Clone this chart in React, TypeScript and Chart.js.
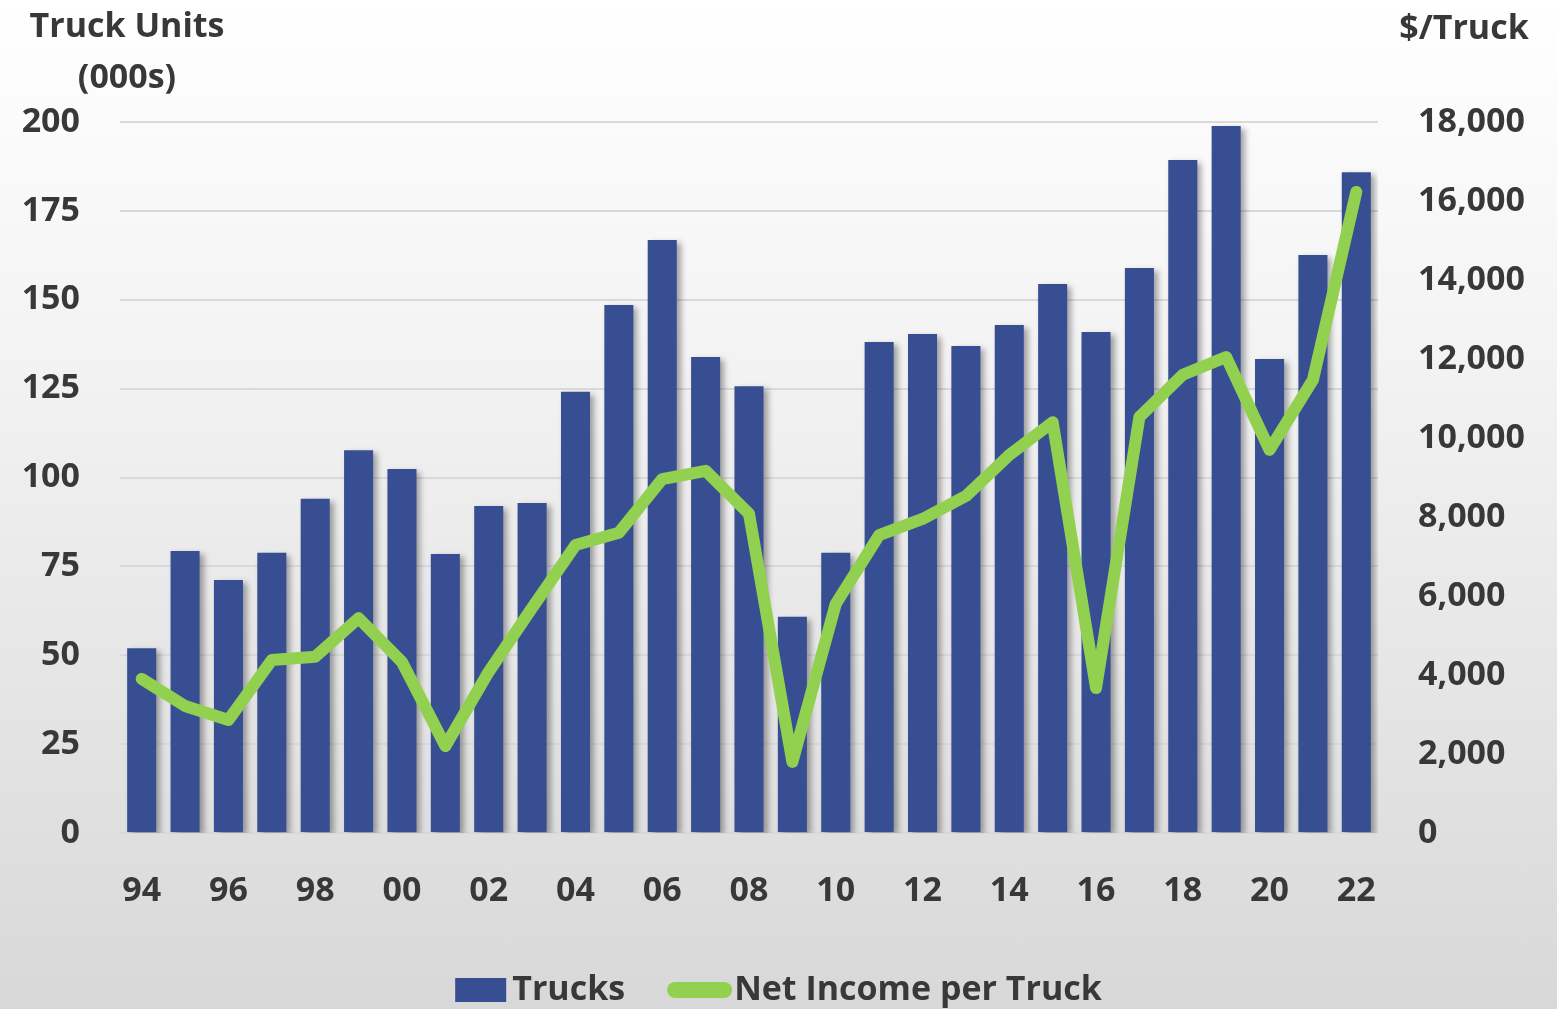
import React, { useEffect, useRef } from "react";
import { Chart, registerables } from "chart.js";

Chart.register(...registerables);

const years = ["94","95","96","97","98","99","00","01","02","03","04","05","06","07","08","09","10","11","12","13","14","15","16","17","18","19","20","21","22"];
const trucks = [52.0,79.3,71.2,78.8,94.0,107.7,102.4,78.5,92.0,92.8,124.1,148.5,166.8,133.9,125.7,60.8,78.8,138.1,140.4,137.0,142.9,154.4,140.9,158.9,189.3,198.9,133.3,162.6,185.9];
const netIncome = [3900,3215,2860,4380,4460,5440,4330,2200,4080,5700,7290,7600,8960,9170,8080,1800,5800,7540,7950,8530,9570,10400,3670,10530,11600,12050,9700,11470,16230];
const leftTitle = ["Truck Units", "(000s)"];
const rightTitle = "$/Truck";
const seriesNames = ["Trucks", "Net Income per Truck"];

const BAR = "#374F92";
const GREEN = "#92D050";
const TEXT = "#383838";
const FONT = "'Open Sans', Lato, 'DejaVu Sans', sans-serif";
const FS = 34;

const extrasPlugin = {
  id: "extras",
  beforeDatasetDraw(chart: any, args: any) {
    if (args.index === 1) {
      const ctx = chart.ctx;
      ctx.save();
      ctx.shadowColor = "rgba(0,0,0,0.35)";
      ctx.shadowBlur = 6;
      ctx.shadowOffsetX = 4;
      ctx.shadowOffsetY = 3;
    }
  },
  afterDatasetDraw(chart: any, args: any) {
    if (args.index === 1) chart.ctx.restore();
  },
  afterDraw(chart: any) {
    const ctx = chart.ctx;
    ctx.save();
    ctx.fillStyle = TEXT;
    ctx.font = `bold ${FS}px ${FONT}`;
    ctx.textBaseline = "middle";
    ctx.textAlign = "center";
    ctx.fillText(leftTitle[0], 127, 27);
    ctx.fillText(leftTitle[1], 127, 78);
    ctx.fillText(rightTitle, 1464, 29);

    // legend
    const w1 = ctx.measureText(seriesNames[0]).width;
    const w2 = ctx.measureText(seriesNames[1]).width;
    const boxW = 51, gap1 = 6, between = 42, lineW = 65, gap2 = 2;
    const total = boxW + gap1 + w1 + between + lineW + gap2 + w2;
    let x = (chart.width - total) / 2;
    const cy = 990;
    ctx.fillStyle = BAR;
    ctx.fillRect(x, cy - 12, boxW, 24);
    x += boxW + gap1;
    ctx.fillStyle = TEXT;
    ctx.textAlign = "left";
    ctx.fillText(seriesNames[0], x, cy);
    x += w1 + between;
    ctx.strokeStyle = GREEN;
    ctx.lineWidth = 16;
    ctx.lineCap = "round";
    ctx.beginPath();
    ctx.moveTo(x + 8, cy);
    ctx.lineTo(x + lineW - 8, cy);
    ctx.stroke();
    x += lineW + gap2;
    ctx.fillText(seriesNames[1], x, cy);
    ctx.restore();
  },
};

export default function App() {
  const ref = useRef<HTMLCanvasElement>(null);
  useEffect(() => {
    const chart = new Chart(ref.current as HTMLCanvasElement, {
      type: "bar",
      data: {
        labels: years,
        datasets: [
          {
            type: "line",
            label: seriesNames[1],
            data: netIncome,
            yAxisID: "y1",
            borderColor: GREEN,
            backgroundColor: GREEN,
            borderWidth: 12,
            borderCapStyle: "round",
            borderJoinStyle: "round",
            pointRadius: 0,
            tension: 0,
            order: 0,
          } as any,
          {
            type: "bar",
            label: seriesNames[0],
            data: trucks,
            yAxisID: "y",
            backgroundColor: BAR,
            borderWidth: 0,
            barPercentage: 0.67,
            categoryPercentage: 1,
            order: 1,
          } as any,
        ],
      },
      plugins: [extrasPlugin],
      options: {
        animation: false,
        responsive: false,
        maintainAspectRatio: false,
        layout: { padding: { top: 122, bottom: 0, left: 0, right: 0 } },
        plugins: { legend: { display: false }, tooltip: { enabled: false } },
        scales: {
          x: {
            grid: { display: false, drawTicks: false },
            border: { display: false },
            ticks: {
              color: TEXT,
              font: { family: FONT, size: FS, weight: "bold" },
              padding: 38,
              maxRotation: 0,
              autoSkip: false,
              callback: (_v: any, i: number) => (i % 2 === 0 ? years[i] : ""),
            },
            afterFit: (s: any) => { s.height = 176; },
          },
          y: {
            position: "left",
            min: 0,
            max: 200,
            grid: { color: "#d9d9d9", lineWidth: 2, drawTicks: false },
            border: { display: false },
            ticks: {
              stepSize: 25,
              color: TEXT,
              font: { family: FONT, size: FS, weight: "bold" },
              padding: 40,
            },
            afterFit: (s: any) => { s.width = 120; },
          },
          y1: {
            position: "right",
            min: 0,
            max: 18000,
            grid: { drawOnChartArea: false, drawTicks: false },
            border: { display: false },
            ticks: {
              stepSize: 2000,
              color: TEXT,
              font: { family: FONT, size: FS, weight: "bold" },
              padding: 40,
              callback: (v: any) => Number(v).toLocaleString("en-US"),
            },
            afterFit: (s: any) => { s.width = 179; },
          },
        },
      } as any,
    });
    return () => chart.destroy();
  }, []);

  return (
    <div
      style={{
        position: "absolute",
        left: 0,
        top: 0,
        width: 1557,
        height: 1009,
        background: "linear-gradient(to bottom, #ffffff 0%, #f3f3f3 35%, #d8d8d8 100%)",
      }}
    >
      <canvas ref={ref} width={1557} height={1009} style={{ display: "block" }} />
    </div>
  );
}
